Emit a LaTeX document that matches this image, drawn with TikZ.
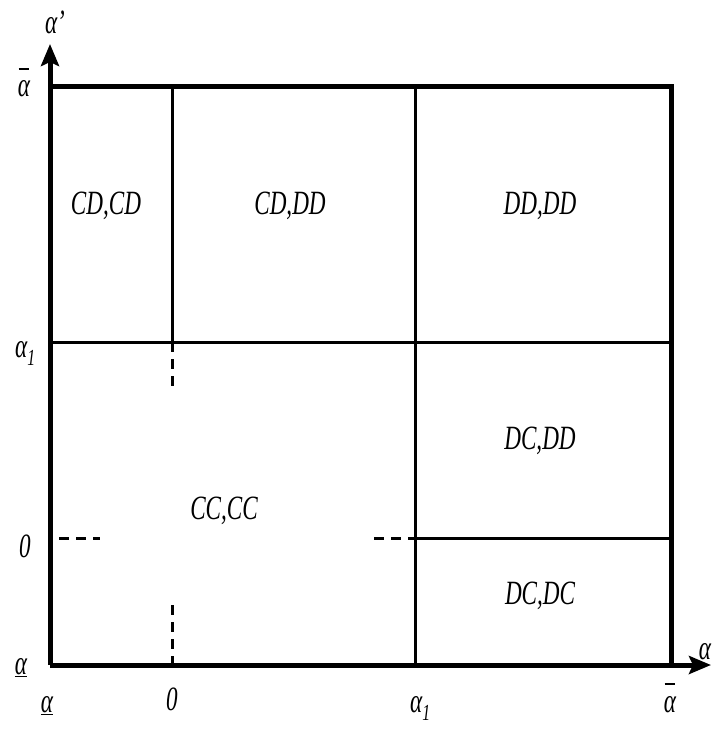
\documentclass[tikz,border=0pt]{standalone}
\usepackage{fontspec}
\setmainfont{Liberation Serif}
\usetikzlibrary{arrows.meta}
\tikzset{
  every picture/.style={x=1pt, y=-1pt},
  lbl/.style={font=\itshape\fontsize{34}{34}\selectfont, inner sep=0pt, xscale=0.68},
  thickline/.style={line width=5pt},
  thinline/.style={line width=3pt},
  dashline/.style={line width=3pt, dash pattern=on 10pt off 7pt},
  axis/.style={line width=5pt, -{Stealth[length=22pt, width=18pt, inset=4pt]}},
}
\newcommand{\abar}{\vbox{\offinterlineskip\halign{\hfil##\hfil\cr
  \rule{16pt}{1.6pt}\cr\noalign{\vskip 11pt}α\cr}}}
\newcommand{\aone}{α\raisebox{-8pt}{\fontsize{23}{23}\selectfont 1}}
\begin{document}
\begin{tikzpicture}
  \useasboundingbox (0,0) rectangle (719,730);
  % corners and break points
  \coordinate (o) at (50,665);
  \coordinate (tl) at (50,87);
  \coordinate (tr) at (671,87);
  \coordinate (br) at (671,665);
  \coordinate (ytip) at (50,44);
  \coordinate (xtip) at (711,665);
  \coordinate (z1) at (172,87);
  \coordinate (z2) at (172,342);
  \coordinate (z3) at (172,392);
  \coordinate (z4) at (172,605);
  \coordinate (a1l) at (50,342);
  \coordinate (a1r) at (669,342);
  \coordinate (u1) at (415,87);
  \coordinate (u2) at (415,665);
  \coordinate (h1) at (415,538);
  \coordinate (h2) at (669,538);
  % frame and axes
  \draw[thickline] (tl) -- (tr) -- (br);
  \draw[axis] (o) -- (ytip);
  \draw[axis] (o) -- (xtip);
  % borders between regions
  \draw[thinline] (z1) -- (z2);
  \draw[thinline] (a1l) -- (a1r);
  \draw[thinline] (u1) -- (u2);
  \draw[thinline] (h1) -- (h2);
  % dashed continuations of the zero lines
  \draw[dashline] (z2) -- (z3);
  \draw[dashline] (z4) -- (172,665);
  \draw[dashline] (59,538) -- (100,538);
  \draw[dashline] (374,538) -- (h1);
  % region labels
  \node[lbl] (cdcd) at (106,206) {CD,CD};
  \node[lbl] (cddd) at (290,206) {CD,DD};
  \node[lbl] (dddd) at (540,206) {DD,DD};
  \node[lbl] (dcdd) at (540,441) {DC,DD};
  \node[lbl] (cccc) at (224,511) {CC,CC};
  \node[lbl] (dcdc) at (540,596) {DC,DC};
  % axis labels
  \node[lbl] (ya) at (55,22) {α’};
  \node[lbl, anchor=base] (ytop) at (24,97) {\abar};
  \node[lbl, anchor=base west] (yone) at (15,357) {\aone};
  \node[lbl] (yzero) at (25,546) {0};
  \node[lbl] (ybot) at (21,668) {\underline{α}};
  \node[lbl] (xa) at (705,652) {α};
  \node[lbl] (xbot) at (47,706) {\underline{α}};
  \node[lbl] (xzero) at (172,699) {0};
  \node[lbl, anchor=base west] (xone) at (410,712) {\aone};
  \node[lbl, anchor=base] (xtop) at (670,712) {\abar};
\end{tikzpicture}
\end{document}
